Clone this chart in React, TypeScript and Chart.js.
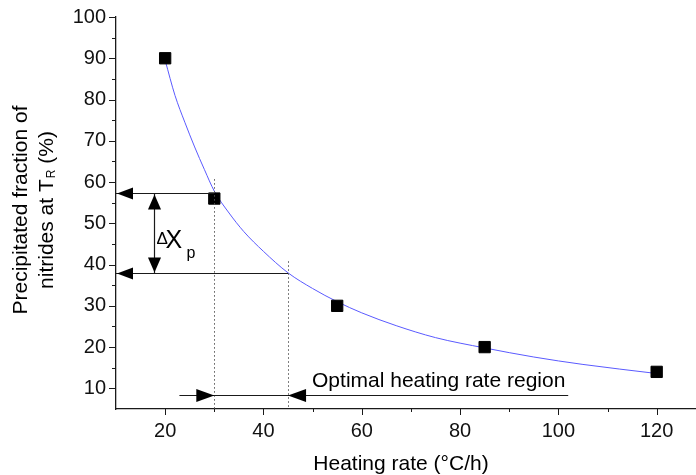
import { useEffect, useRef } from "react";
import { Chart, registerables } from "chart.js";

Chart.register(...registerables);

// ---- data ----
const HEATING_RATE = [20, 30, 55, 85, 120];
const PRECIPITATED = [90, 56, 30, 20, 14];

// fitted curve
const FIT_RATE = [20, 22, 24, 26, 28, 30, 33, 36, 40, 45, 50, 55, 60, 67, 75, 85, 95, 105, 120];
const FIT_FRACTION = [89.5, 81, 74.5, 68.5, 63, 57.8, 52.5, 48, 43.2, 38, 34.2, 31, 28.3, 25.2, 22.3, 19.8, 17.6, 15.8, 13.6];

const X_TICKS = [20, 40, 60, 80, 100, 120];
const Y_TICKS = [10, 20, 30, 40, 50, 60, 70, 80, 90, 100];

// annotation values
const DELTA_HIGH = 57.3;
const DELTA_LOW = 38;
const RATE_LOW = 30;
const RATE_HIGH = 45;
const DELTA_ARROW_RATE = 17.8;
const GUIDE_TOP_LOW = 60.7;
const GUIDE_TOP_HIGH = 40.8;
const REGION_LEVEL = 8.5;
const REGION_FROM = 22.9;
const REGION_TO = 102;

const X_TITLE = "Heating rate (°C/h)";
const Y_TITLE_1 = "Precipitated fraction of";
const Y_TITLE_2A = "nitrides at T";
const Y_TITLE_2SUB = "R";
const Y_TITLE_2B = " (%)";
const REGION_LABEL = "Optimal heating rate region";

const FONT = '"Liberation Sans", Arial, sans-serif';
const INK = "#1a1a1a";

function arrowHead(ctx: CanvasRenderingContext2D, tx: number, ty: number, dir: "l" | "r" | "u" | "d", len: number, hw: number) {
  ctx.beginPath();
  if (dir === "l") { ctx.moveTo(tx, ty); ctx.lineTo(tx + len, ty - hw); ctx.lineTo(tx + len, ty + hw); }
  if (dir === "r") { ctx.moveTo(tx, ty); ctx.lineTo(tx - len, ty - hw); ctx.lineTo(tx - len, ty + hw); }
  if (dir === "u") { ctx.moveTo(tx, ty); ctx.lineTo(tx - hw, ty + len); ctx.lineTo(tx + hw, ty + len); }
  if (dir === "d") { ctx.moveTo(tx, ty); ctx.lineTo(tx - hw, ty - len); ctx.lineTo(tx + hw, ty - len); }
  ctx.closePath();
  ctx.fill();
}

const annotations = {
  id: "annotations",
  afterDatasetsDraw(chart: any) {
    const { ctx, chartArea } = chart;
    const xs = chart.scales.x;
    const ys = chart.scales.y;
    const px = (v: number) => xs.getPixelForValue(v);
    const py = (v: number) => ys.getPixelForValue(v);
    ctx.save();

    // tick marks (major + minor)
    ctx.strokeStyle = INK;
    ctx.lineWidth = 1;
    const xMinor = X_TICKS.slice(0, -1).map((v, i) => (v + X_TICKS[i + 1]) / 2);
    const yMinor = Y_TICKS.slice(0, -1).map((v, i) => (v + Y_TICKS[i + 1]) / 2);
    const b = chartArea.bottom;
    const l = chartArea.left;
    ctx.beginPath();
    X_TICKS.forEach((v) => { const x = Math.round(px(v)) + 0.5; ctx.moveTo(x, b); ctx.lineTo(x, b + 6); });
    xMinor.forEach((v) => { const x = Math.round(px(v)) + 0.5; ctx.moveTo(x, b); ctx.lineTo(x, b + 3); });
    Y_TICKS.forEach((v) => { const y = Math.round(py(v)) + 0.5; ctx.moveTo(l, y); ctx.lineTo(l - 7, y); });
    yMinor.forEach((v) => { const y = Math.round(py(v)) + 0.5; ctx.moveTo(l, y); ctx.lineTo(l - 4, y); });
    ctx.stroke();

    // dotted guides
    ctx.strokeStyle = "#555";
    ctx.setLineDash([1.5, 2.5]);
    ctx.beginPath();
    const xl = Math.round(px(RATE_LOW)) + 0.5;
    const xh = Math.round(px(RATE_HIGH)) + 0.5;
    ctx.moveTo(xl, py(GUIDE_TOP_LOW)); ctx.lineTo(xl, b);
    ctx.moveTo(xh, py(GUIDE_TOP_HIGH)); ctx.lineTo(xh, b);
    ctx.stroke();
    ctx.setLineDash([]);

    // horizontal ΔX lines with arrows
    ctx.strokeStyle = INK;
    ctx.fillStyle = "#000";
    ctx.lineWidth = 1.2;
    const yH = Math.round(py(DELTA_HIGH)) + 0.5;
    const yL = Math.round(py(DELTA_LOW)) + 0.5;
    ctx.beginPath();
    ctx.moveTo(l, yH); ctx.lineTo(px(RATE_LOW), yH);
    ctx.moveTo(l, yL); ctx.lineTo(px(RATE_HIGH), yL);
    ctx.stroke();
    arrowHead(ctx, l + 1, yH, "l", 16, 6);
    arrowHead(ctx, l + 1, yL, "l", 16, 6);

    // vertical double arrow
    const xa = Math.round(px(DELTA_ARROW_RATE)) + 0.5;
    ctx.beginPath();
    ctx.moveTo(xa, yH); ctx.lineTo(xa, yL);
    ctx.stroke();
    arrowHead(ctx, xa, yH + 1, "u", 15, 6.5);
    arrowHead(ctx, xa, yL - 1, "d", 15, 6.5);

    // ΔXp label
    ctx.fillStyle = "#000";
    ctx.textAlign = "left";
    ctx.textBaseline = "alphabetic";
    ctx.font = `17px ${FONT}`;
    ctx.fillText("Δ", xa + 2, yH + 50);
    ctx.font = `25px ${FONT}`;
    ctx.fillText("X", xa + 11, yH + 54);
    ctx.font = `16px ${FONT}`;
    ctx.fillText("p", xa + 32, yH + 64);

    // region arrows
    const yr = Math.round(py(REGION_LEVEL)) + 0.5;
    ctx.beginPath();
    ctx.moveTo(px(REGION_FROM), yr); ctx.lineTo(px(REGION_TO), yr);
    ctx.stroke();
    arrowHead(ctx, px(RATE_LOW), yr, "r", 18, 6.5);
    arrowHead(ctx, px(RATE_HIGH), yr, "l", 18, 6.5);

    // region label
    ctx.font = `21px ${FONT}`;
    ctx.fillStyle = "#000";
    ctx.fillText(REGION_LABEL, px(RATE_HIGH) + 24, yr - 9);

    // x title
    ctx.textAlign = "center";
    ctx.font = `21px ${FONT}`;
    ctx.fillText(X_TITLE, (chartArea.left + chartArea.right) / 2 - 5, chart.height - 5);

    // y title (two lines, rotated)
    const cy = (chartArea.top + chartArea.bottom) / 2 - 3;
    ctx.save();
    ctx.translate(27, cy);
    ctx.rotate(-Math.PI / 2);
    ctx.textAlign = "center";
    ctx.font = `21px ${FONT}`;
    ctx.fillText(Y_TITLE_1, 0, 0);
    ctx.restore();

    ctx.save();
    ctx.translate(53, cy);
    ctx.rotate(-Math.PI / 2);
    ctx.textAlign = "left";
    ctx.font = `21px ${FONT}`;
    const wA = ctx.measureText(Y_TITLE_2A).width;
    const wB = ctx.measureText(Y_TITLE_2B).width;
    ctx.font = `12px ${FONT}`;
    const wS = ctx.measureText(Y_TITLE_2SUB).width + 1;
    let sx = -(wA + wS + wB) / 2;
    ctx.font = `21px ${FONT}`;
    ctx.fillText(Y_TITLE_2A, sx, 0);
    sx += wA;
    ctx.font = `12px ${FONT}`;
    ctx.fillText(Y_TITLE_2SUB, sx + 1, 2);
    sx += wS;
    ctx.font = `21px ${FONT}`;
    ctx.fillText(Y_TITLE_2B, sx, 0);
    ctx.restore();

    ctx.restore();
  },
};

export default function App() {
  const ref = useRef<HTMLCanvasElement | null>(null);

  useEffect(() => {
    if (!ref.current) return;
    const chart = new Chart(ref.current, {
      type: "scatter",
      data: {
        datasets: [
          {
            label: "measured",
            data: HEATING_RATE.map((x, i) => ({ x, y: PRECIPITATED[i] })),
            pointStyle: "rect",
            pointRadius: 8,
            backgroundColor: "#000",
            borderColor: "#000",
            borderWidth: 1,
            showLine: false,
          },
          {
            label: "fit",
            data: FIT_RATE.map((x, i) => ({ x, y: FIT_FRACTION[i] })),
            showLine: true,
            pointRadius: 0,
            borderColor: "#5a5aff",
            borderWidth: 1,
            cubicInterpolationMode: "monotone",
          } as any,
        ],
      },
      options: {
        responsive: false,
        animation: false,
        devicePixelRatio: 1,
        layout: { autoPadding: false, padding: { top: 17, left: 0, right: 0, bottom: 0 } },
        plugins: { legend: { display: false }, tooltip: { enabled: false } },
        scales: {
          x: {
            type: "linear",
            min: 10,
            max: 128,
            afterBuildTicks: (s: any) => { s.ticks = X_TICKS.map((v) => ({ value: v })); },
            afterFit: (s: any) => { s.height = 66; },
            grid: { display: false, drawTicks: true, tickLength: 6 },
            border: { display: true, color: INK, width: 1.3 },
            ticks: { color: "#111", font: { family: FONT, size: 20 }, padding: 4, maxRotation: 0, autoSkip: false },
          },
          y: {
            type: "linear",
            min: 5,
            max: 100,
            afterBuildTicks: (s: any) => { s.ticks = Y_TICKS.map((v) => ({ value: v })); },
            afterFit: (s: any) => { s.width = 116; },
            grid: { display: false, drawTicks: true, tickLength: 7 },
            border: { display: true, color: INK, width: 1.3 },
            ticks: { color: "#111", font: { family: FONT, size: 20 }, padding: 3, autoSkip: false },
          },
        },
      },
      plugins: [annotations],
    });
    return () => chart.destroy();
  }, []);

  return (
    <div style={{ position: "absolute", left: 0, top: 0, width: 696, height: 475, background: "#fff" }}>
      <canvas ref={ref} width={696} height={475} style={{ width: 696, height: 475, display: "block" }} />
    </div>
  );
}
